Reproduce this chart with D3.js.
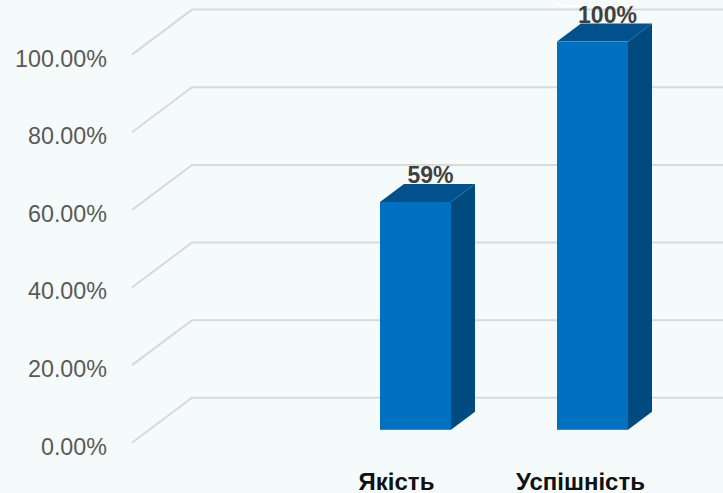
<!DOCTYPE html>
<html><head><meta charset="utf-8">
<script src="https://cdn.jsdelivr.net/npm/d3@7"></script>
<style>html,body{margin:0;padding:0;background:#f5fbfb;overflow:hidden}svg{display:block}
text{font-family:"Liberation Sans",Arial,sans-serif}</style></head><body>
<svg id="c" width="723" height="493"></svg>
<script>
const categories = ["Якість", "Успішність"];
const values = [0.587, 1.0];
const valueLabels = ["59%", "100%"];
const ticks = [0, 0.2, 0.4, 0.6, 0.8, 1.0];

const svg = d3.select("#c");
const y = d3.scaleLinear().domain([0, 1]).range([397.8, 9.6]);
const x = d3.scaleBand().domain(["", ...categories]).range([150, 681]);
const xLabel = d3.scalePoint().domain(categories).range([396.5, 580.5]);
const gridDx = 60, gridDy = 45, barDx = 24, barDy = 18, barOff = 32, barW = 71;

// faint white highlight behind the top label
svg.append("path").attr("fill", "none").attr("stroke", "#ffffff").attr("stroke-width", 1.5)
  .attr("d", "M553,0Q556,6 570,6L622,6Q634,6 637,0");

const grid = svg.append("g").attr("fill", "none").attr("stroke", "#d9d9d9").attr("stroke-width", 2);
grid.selectAll("path").data(ticks).join("path")
  .attr("d", d => `M${132},${y(d) + gridDy}L${132 + gridDx},${y(d)}L723,${y(d)}`);

const axis = d3.axisLeft(y).tickValues(ticks).tickFormat(d3.format(".2%")).tickSize(0).tickPadding(0);
const ag = svg.append("g").attr("transform", `translate(107,${gridDy + 4})`).call(axis);
ag.select(".domain").remove();
ag.selectAll("text").attr("font-size", 23.3).attr("fill", "#595959").style("font-family", '"Liberation Sans",Arial,sans-serif');

const cx = c => x(c) + x.bandwidth() / 2;
const bars = svg.append("g").selectAll("g").data(categories).join("g");
const L = d => cx(d) - barW / 2, R = d => cx(d) + barW / 2;
const T = (d, i) => y(values[i]) + barOff, B = y(0) + barOff;
bars.append("path").attr("fill", "#004a80")
  .attr("d", (d, i) => `M${R(d)},${T(d, i)}L${R(d) + barDx},${T(d, i) - barDy}L${R(d) + barDx},${B - barDy}L${R(d)},${B}Z`);
bars.append("path").attr("fill", "#00518c")
  .attr("d", (d, i) => `M${L(d)},${T(d, i)}L${L(d) + barDx},${T(d, i) - barDy}L${R(d) + barDx},${T(d, i) - barDy}L${R(d)},${T(d, i)}Z`);
bars.append("rect").attr("fill", "#0070c0")
  .attr("x", d => L(d)).attr("width", barW)
  .attr("y", (d, i) => T(d, i)).attr("height", (d, i) => B - T(d, i));
bars.append("text").attr("text-anchor", "middle").attr("font-weight", "bold").attr("font-size", 23).attr("fill", "#404040")
  .attr("x", d => cx(d) + 15).attr("y", (d, i) => T(d, i) - 18.5)
  .text((d, i) => valueLabels[i]);
bars.append("text").attr("text-anchor", "middle").attr("font-weight", "bold").attr("font-size", 24).attr("fill", "#111")
  .attr("x", d => xLabel(d)).attr("y", 490)
  .text(d => d);
</script></body></html>
